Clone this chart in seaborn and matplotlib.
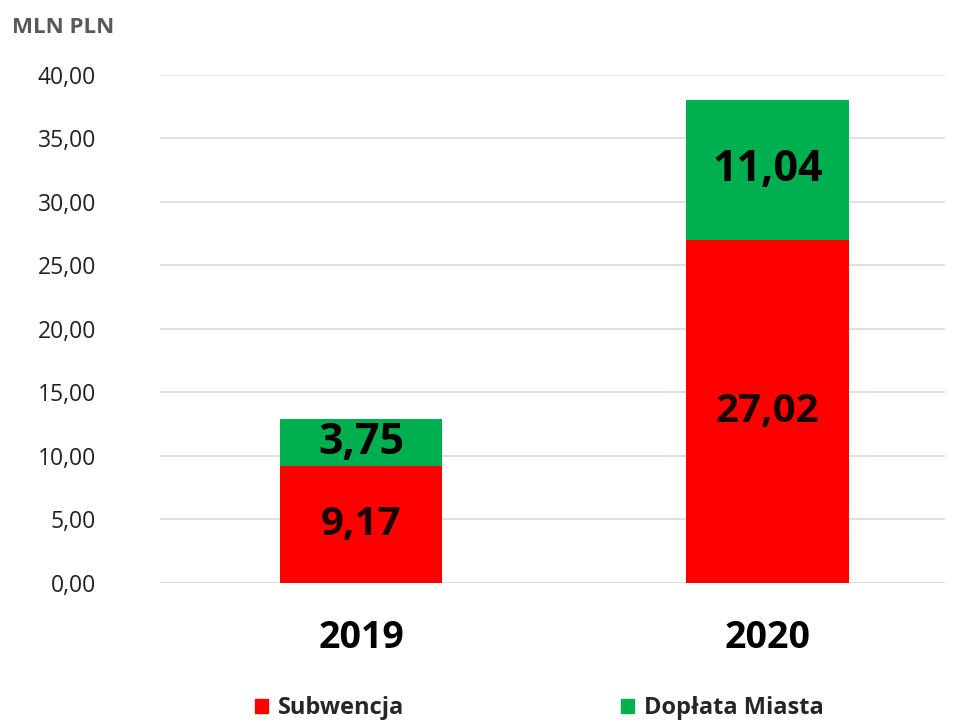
import pandas as pd
import matplotlib.pyplot as plt
import seaborn as sns
from matplotlib.patches import Patch

years = ["2019", "2020"]
subwencja = [9.17, 27.02]
doplata = [3.75, 11.04]
yticks = [0, 5, 10, 15, 20, 25, 30, 35, 40]

red = "#FF0000"
green = "#00B050"

df = pd.DataFrame({"rok": years, "subwencja": subwencja, "doplata": doplata})
df["razem"] = df["subwencja"] + df["doplata"]

sns.set_style("white")
plt.rcParams["font.family"] = ["Open Sans", "DejaVu Sans"]

fig = plt.figure(figsize=(9.6, 7.24), dpi=100)
ax = fig.add_axes([0.1667, 0.1948, 0.8173, 0.7017])

# stacked: green total first, red part over it
sns.barplot(data=df, x="rok", y="razem", color=green, width=0.4, saturation=1,
            linewidth=0, ax=ax, zorder=3)
sns.barplot(data=df, x="rok", y="subwencja", color=red, width=0.4, saturation=1,
            linewidth=0, ax=ax, zorder=3)

for i, row in df.iterrows():
    ax.text(i, row["subwencja"] / 2, f"{row['subwencja']:.2f}".replace(".", ","),
            ha="center", va="center", fontsize=29, fontweight="bold", color="#1a0000", zorder=4)
    ax.text(i, row["subwencja"] + row["doplata"] / 2, f"{row['doplata']:.2f}".replace(".", ","),
            ha="center", va="center", fontsize=31, fontweight="bold", color="black", zorder=4)

ax.set_ylim(0, 40)
ax.set_xlim(-0.494, 1.435)
ax.set_yticks(yticks)
ax.set_yticklabels([f"{v:.2f}".replace(".", ",") for v in yticks], fontsize=16.5, color="#222222")
ax.set_xticks(range(len(years)))
ax.set_xticklabels(years, fontsize=27, fontweight="bold", color="black")
ax.tick_params(axis="y", length=0, pad=46)
ax.tick_params(axis="x", length=0, pad=26)
ax.yaxis.grid(True, color="#D9D9D9", linewidth=1.2, zorder=0)
ax.set_axisbelow(True)
for s in ax.spines.values():
    s.set_visible(False)
ax.set_xlabel("")
ax.set_ylabel("")

fig.text(0.0125, 0.962, "MLN PLN", fontsize=16, fontweight="bold", color="#595959", va="center")

handles = [Patch(color=red, label="Subwencja"), Patch(color=green, label="Dopłata Miasta")]
leg = fig.legend(handles=handles, loc="center", bbox_to_anchor=(0.562, 0.022), ncol=2, frameon=False,
                 fontsize=17, handlelength=0.55, handleheight=0.55, handletextpad=0.4, columnspacing=9.2)
for t in leg.get_texts():
    t.set_fontweight("bold")

plt.savefig("out.png", dpi=100)
